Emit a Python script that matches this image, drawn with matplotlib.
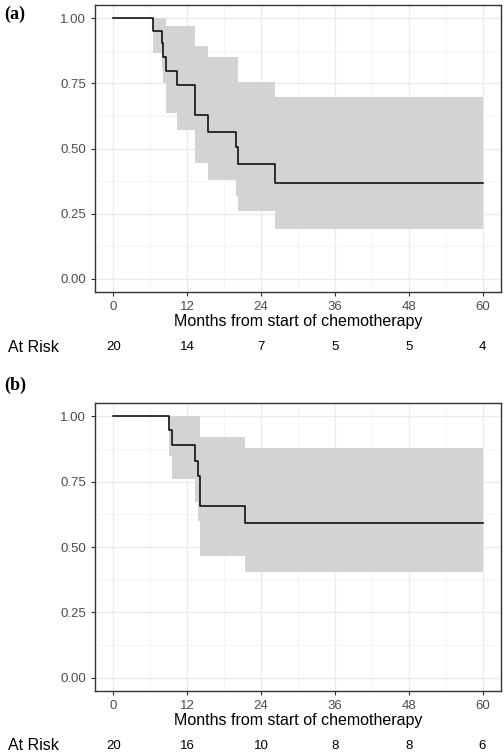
import matplotlib
matplotlib.use("Agg")
import matplotlib.pyplot as plt

plt.rcParams['font.family'] = ['Liberation Sans', 'DejaVu Sans']

# Panel (a)
a_t = [0, 6.5, 7.9, 8.0, 8.5, 10.3, 13.3, 15.3, 19.9, 20.2, 26.2]
a_s = [1, .951, .904, .85, .798, .743, .629, .565, .506, .439, .366]
a_lo = [1, .866, .80, .75, .635, .571, .446, .379, .319, .26, .193]
a_up = [1, 1, 1, 1, .968, .968, .891, .85, .85, .753, .699]
a_risk = [20, 14, 7, 5, 5, 4]
# Panel (b)
b_t = [0, 9.0, 9.5, 13.3, 13.8, 14.1, 21.4]
b_s = [1, .946, .889, .828, .771, .656, .593]
b_lo = [1, .848, .761, .673, .60, .466, .406]
b_up = [1, 1, 1, 1, 1, .922, .878]
b_risk = [20, 16, 10, 8, 8, 6]
xticks = [0, 12, 24, 36, 48, 60]
yticks = [0.0, 0.25, 0.5, 0.75, 1.0]
t_end = 60

W, H = 504, 752
fig = plt.figure(figsize=(W/100, H/100), dpi=100)

def panel(box, t, s, lo, up, risk, label, label_y):
    ax = fig.add_axes(box)
    tt = t + [t_end]
    ax.fill_between(tt, lo + [lo[-1]], up + [up[-1]], step='post', color='#d3d3d4', lw=0, zorder=2)
    ax.step(tt, s + [s[-1]], where='post', color='black', lw=1.1, zorder=3)
    ax.set_xlim(-3, 63)
    ax.set_ylim(-0.05, 1.05)
    ax.set_xticks(xticks)
    ax.set_yticks(yticks)
    ax.set_yticklabels([f"{v:.2f}" for v in yticks])
    ax.set_xticks([6, 18, 30, 42, 54], minor=True)
    ax.set_yticks([0.125, 0.375, 0.625, 0.875], minor=True)
    ax.grid(True, which='major', color='#ebebeb', lw=1.0, zorder=0)
    ax.grid(True, which='minor', color='#f2f2f2', lw=0.6, zorder=0)
    ax.set_axisbelow(True)
    ax.tick_params(which='minor', length=0)
    ax.tick_params(which='major', length=3, color='#333333', labelsize=9.5, labelcolor='#4d4d4d')
    for sp in ax.spines.values():
        sp.set_color('#333333'); sp.set_linewidth(1.0)
    ax.set_xlabel('Months from start of chemotherapy', fontsize=11.5, labelpad=1)
    fig.text(4/W, 1 - label_y/H, label, fontsize=13, fontweight='bold',
             family='Liberation Serif', va='center', ha='left')
    x0 = box[0]
    ry = box[1] - 55/H
    fig.text(8/W, ry, 'At Risk', fontsize=11.5, va='center', ha='left')
    for xv, r in zip(xticks, risk):
        fx = x0 + (xv + 3) / 66 * box[2]
        fig.text(fx, ry, str(r), fontsize=9.5, va='center', ha='center')
    return ax

panel([95/W, 1 - 292/H, 406/W, 287/H], a_t, a_s, a_lo, a_up, a_risk, '(a)', 14)
panel([95/W, 1 - 691/H, 406/W, 288/H], b_t, b_s, b_lo, b_up, b_risk, '(b)', 385)

fig.savefig('out.png', dpi=100)
